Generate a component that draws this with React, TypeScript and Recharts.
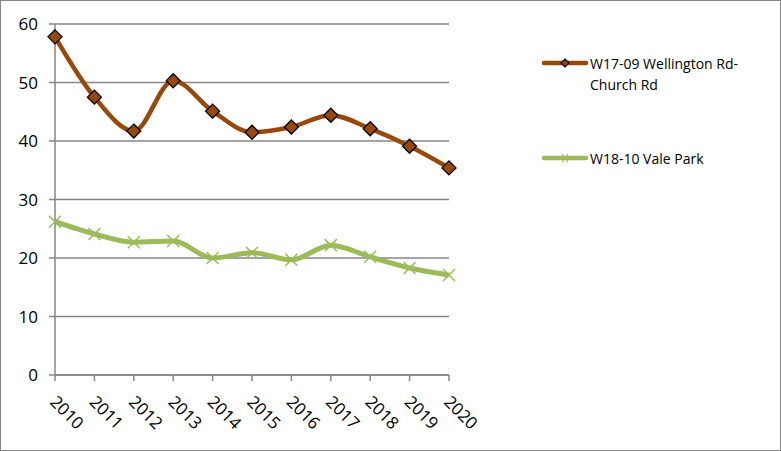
import { LineChart, Line, XAxis, YAxis, CartesianGrid } from "recharts";

const YEARS = ["2010", "2011", "2012", "2013", "2014", "2015", "2016", "2017", "2018", "2019", "2020"];
const WELLINGTON = [57.8, 47.5, 41.7, 50.3, 45.1, 41.5, 42.4, 44.4, 42.1, 39.1, 35.4];
const VALE_PARK = [26.2, 24.1, 22.7, 22.9, 20.0, 20.9, 19.7, 22.2, 20.2, 18.3, 17.1];
const Y_TICKS = [0, 10, 20, 30, 40, 50, 60];

const BROWN = "#984807";
const GREEN = "#9BBB59";
const GREY = "#868686";
const FONT = "'Open Sans', sans-serif";

const data = YEARS.map((year, i) => ({
  year,
  wellington: WELLINGTON[i],
  vale: VALE_PARK[i],
}));

const Diamond = ({ cx, cy }: any) => {
  if (cx == null || cy == null) return null;
  const r = 7;
  return (
    <polygon
      points={`${cx},${cy - r} ${cx + r},${cy} ${cx},${cy + r} ${cx - r},${cy}`}
      fill={BROWN}
      stroke="#000"
      strokeWidth={1.3}
    />
  );
};

const Cross = ({ cx, cy }: any) => {
  if (cx == null || cy == null) return null;
  const r = 6;
  return (
    <g stroke={GREEN} strokeWidth={1.5}>
      <line x1={cx - r} y1={cy - r} x2={cx + r} y2={cy + r} />
      <line x1={cx - r} y1={cy + r} x2={cx + r} y2={cy - r} />
    </g>
  );
};

const YearTick = ({ x, y, payload }: any) => (
  <g transform={`translate(${x - 6},${y + 22}) rotate(45)`}>
    <text x={0} y={0} textAnchor="start" fill="#000" fontSize={17} fontFamily={FONT}>
      {payload.value}
    </text>
  </g>
);

const LegendBox = () => (
  <div
    style={{
      position: "absolute",
      left: 541,
      top: 52,
      fontFamily: FONT,
      fontSize: 14,
      color: "#000",
    }}
  >
    <div style={{ display: "flex", alignItems: "flex-start" }}>
      <svg width={48} height={20}>
        <line x1={2} y1={10} x2={44} y2={10} stroke={BROWN} strokeWidth={4.5} strokeLinecap="round" />
        <polygon points="23,6 27,10 23,14 19,10" fill={BROWN} stroke="#000" strokeWidth={1.2} />
      </svg>
      <div style={{ width: 165, lineHeight: "21px" }}>W17-09 Wellington Rd-Church Rd</div>
    </div>
    <div style={{ display: "flex", alignItems: "flex-start", marginTop: 53 }}>
      <svg width={48} height={20}>
        <line x1={2} y1={10} x2={44} y2={10} stroke={GREEN} strokeWidth={4.5} strokeLinecap="round" />
        <g stroke={GREEN} strokeWidth={1.2}>
          <line x1={20} y1={6} x2={26} y2={14} />
          <line x1={20} y1={14} x2={26} y2={6} />
        </g>
      </svg>
      <div style={{ width: 165, lineHeight: "21px" }}>W18-10 Vale Park</div>
    </div>
  </div>
);

export default function App() {
  return (
    <>
      <style>{`body{margin:0}`}</style>
      <div
        style={{
          position: "relative",
          width: 781,
          height: 451,
          border: `1px solid ${GREY}`,
          boxSizing: "border-box",
          background: "#fff",
        }}
      >
        <LineChart
          width={779}
          height={449}
          data={data}
          margin={{ top: 23, right: 331, bottom: 0, left: 0 }}
        >
          <CartesianGrid vertical={false} stroke={GREY} strokeWidth={1.5} />
          <XAxis
            dataKey="year"
            height={75}
            tick={<YearTick />}
            tickSize={6}
            tickMargin={0}
            interval={0}
            stroke={GREY}
            strokeWidth={1.5}
          />
          <YAxis
            width={54}
            domain={[0, 60]}
            ticks={Y_TICKS}
            tickSize={6}
            tickMargin={11}
            stroke={GREY}
            strokeWidth={1.5}
            tick={{ fill: "#000", fontSize: 17, fontFamily: FONT }}
          />
          <Line
            dataKey="vale"
            name="W18-10 Vale Park"
            type="monotone"
            stroke={GREEN}
            strokeWidth={5}
            dot={<Cross />}
            isAnimationActive={false}
          />
          <Line
            dataKey="wellington"
            name="W17-09 Wellington Rd-Church Rd"
            type="monotone"
            stroke={BROWN}
            strokeWidth={4.5}
            dot={<Diamond />}
            isAnimationActive={false}
          />
        </LineChart>
        <LegendBox />
      </div>
    </>
  );
}
